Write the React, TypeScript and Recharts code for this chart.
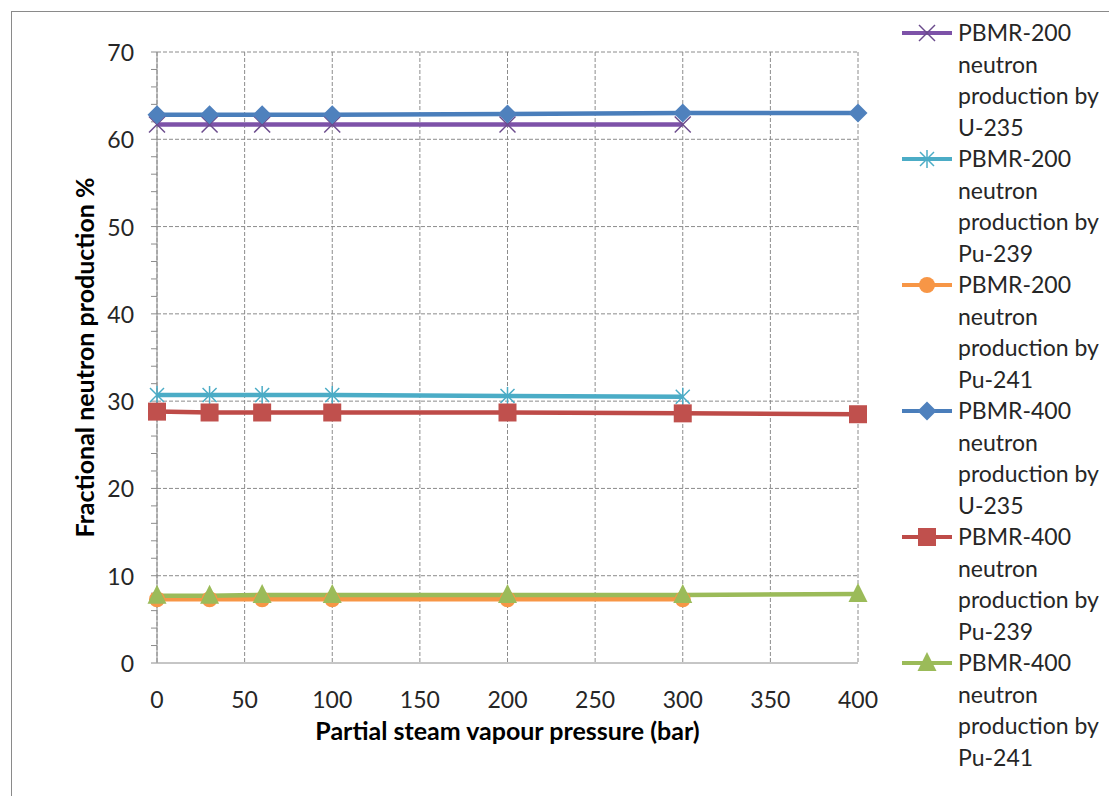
import React from 'react';
import { LineChart, Line, XAxis, YAxis, CartesianGrid, ReferenceLine, Legend, Label } from 'recharts';

const pressures = [0, 30, 60, 100, 200, 300, 400];
const pbmr200U235 = [61.7, 61.7, 61.7, 61.7, 61.7, 61.7, null];
const pbmr200Pu239 = [30.7, 30.7, 30.7, 30.7, 30.6, 30.5, null];
const pbmr200Pu241 = [7.3, 7.3, 7.3, 7.3, 7.3, 7.3, null];
const pbmr400U235 = [62.8, 62.8, 62.8, 62.8, 62.9, 63.0, 63.0];
const pbmr400Pu239 = [28.8, 28.7, 28.7, 28.7, 28.7, 28.6, 28.5];
const pbmr400Pu241 = [7.7, 7.7, 7.8, 7.8, 7.8, 7.8, 7.9];

const xTicks = [0, 50, 100, 150, 200, 250, 300, 350, 400];
const yMajorTicks = [10, 20, 30, 40, 50, 60, 70];
const yMinorTicks = [0, 2, 4, 6, 8, 10, 12, 14, 16, 18, 20, 22, 24, 26, 28, 30, 32, 34, 36, 38, 40, 42, 44, 46, 48, 50, 52, 54, 56, 58, 60, 62, 64, 66, 68, 70];

const seriesKeys = ['s200u235', 's200pu239', 's200pu241', 's400u235', 's400pu239', 's400pu241'];
const seriesNames = [
  'PBMR-200 neutron production by U-235',
  'PBMR-200 neutron production by Pu-239',
  'PBMR-200 neutron production by Pu-241',
  'PBMR-400 neutron production by U-235',
  'PBMR-400 neutron production by Pu-239',
  'PBMR-400 neutron production by Pu-241',
];
const legendLines = [
  ['PBMR-200', 'neutron', 'production by', 'U-235'],
  ['PBMR-200', 'neutron', 'production by', 'Pu-239'],
  ['PBMR-200', 'neutron', 'production by', 'Pu-241'],
  ['PBMR-400', 'neutron', 'production by', 'U-235'],
  ['PBMR-400', 'neutron', 'production by', 'Pu-239'],
  ['PBMR-400', 'neutron', 'production by', 'Pu-241'],
];
const seriesColors = ['#7D52A8', '#4BACC6', '#F79646', '#4A7EBB', '#BE4B48', '#9BBB59'];
const markerColors = ['#6A4A8C', '#4BACC6', '#F79646', '#4F81BD', '#C0504D', '#9BBB59'];
const markerKinds = ['x', 'star', 'circle', 'diamond', 'square', 'triangle'];

const allValues = [pbmr200U235, pbmr200Pu239, pbmr200Pu241, pbmr400U235, pbmr400Pu239, pbmr400Pu241];
const data = pressures.map((p, i) => {
  const row: any = { pressure: p };
  seriesKeys.forEach((k, j) => { row[k] = allValues[j][i]; });
  return row;
});

const FONT = 'Lato, "Open Sans", sans-serif';
const TEXT = '#262626';

function Marker({ kind, cx, cy, color }: any) {
  if (cx == null || cy == null || isNaN(cx) || isNaN(cy)) return <g />;
  switch (kind) {
    case 'x':
      return (
        <g stroke={color} strokeWidth={1.5}>
          <line x1={cx - 8} y1={cy - 8} x2={cx + 8} y2={cy + 8} />
          <line x1={cx - 8} y1={cy + 8} x2={cx + 8} y2={cy - 8} />
        </g>
      );
    case 'star':
      return (
        <g stroke={color} strokeWidth={1.5}>
          <line x1={cx - 7} y1={cy - 7} x2={cx + 7} y2={cy + 7} />
          <line x1={cx - 7} y1={cy + 7} x2={cx + 7} y2={cy - 7} />
          <line x1={cx} y1={cy - 9} x2={cx} y2={cy + 9} />
        </g>
      );
    case 'circle':
      return <circle cx={cx} cy={cy} r={8} fill={color} />;
    case 'diamond':
      return <polygon points={`${cx},${cy - 9.5} ${cx + 9.5},${cy} ${cx},${cy + 9.5} ${cx - 9.5},${cy}`} fill={color} />;
    case 'square':
      return <rect x={cx - 9} y={cy - 9} width={18} height={18} fill={color} />;
    case 'triangle':
      return <polygon points={`${cx},${cy - 11} ${cx + 9.5},${cy + 8} ${cx - 9.5},${cy + 8}`} fill={color} />;
    default:
      return <g />;
  }
}

function YTick(props: any) {
  const { x, y, payload } = props;
  if (payload.value % 10 !== 0) return <g />;
  return (
    <text x={x} y={y} textAnchor="end" dominantBaseline="central" fontSize={23} fill={TEXT} fontFamily={FONT}>
      {payload.value}
    </text>
  );
}

function XTick(props: any) {
  const { x, y, payload } = props;
  return (
    <text x={x} y={y} textAnchor="middle" dominantBaseline="central" fontSize={23} fill={TEXT} fontFamily={FONT}>
      {payload.value}
    </text>
  );
}

function LegendContent() {
  return (
    <div style={{ fontFamily: FONT, fontSize: 23, color: TEXT }}>
      {seriesKeys.map((k, i) => (
        <div key={k} style={{ display: 'flex', alignItems: 'flex-start' }}>
          <svg width={58} height={31.5} style={{ flex: 'none' }}>
            <line x1={2} y1={16} x2={52} y2={16} stroke={seriesColors[i]} strokeWidth={4} />
            <Marker kind={markerKinds[i]} cx={27} cy={16} color={markerColors[i]} />
          </svg>
          <div>
            {legendLines[i].map((t, j) => (
              <div key={j} style={{ height: 31.5, lineHeight: '31.5px', whiteSpace: 'nowrap' }}>{t}</div>
            ))}
          </div>
        </div>
      ))}
    </div>
  );
}

export default function App() {
  return (
    <div style={{ position: 'absolute', left: 0, top: 0, width: 1109, height: 796, background: '#fff', overflow: 'hidden' }}>
      <div style={{ position: 'absolute', left: 11, top: 11, width: 1098, height: 785, borderLeft: '1px solid #8a8a8a', borderTop: '1px solid #8a8a8a', boxSizing: 'border-box' }} />
      <LineChart width={1109} height={796} data={data} margin={{ top: 52, right: 42, bottom: 0, left: 70 }}>
        <CartesianGrid horizontal={false} vertical={true} stroke="#8c8c8c" strokeDasharray="4 2" />
        {yMajorTicks.map((v) => (
          <ReferenceLine key={v} y={v} stroke="#8c8c8c" strokeDasharray="4 2" ifOverflow="visible" />
        ))}
        <XAxis
          dataKey="pressure"
          type="number"
          domain={[0, 400]}
          ticks={xTicks}
          height={133}
          tickLine={false}
          tickSize={6}
          tickMargin={30}
          stroke="#8c8c8c"
          tick={<XTick />}
        >
          <Label value="Partial steam vapour pressure (bar)" position="insideTop" offset={59} style={{ fontFamily: FONT, fontSize: 25, fontWeight: 700, fill: '#000' }} />
        </XAxis>
        <YAxis
          type="number"
          domain={[0, 70]}
          ticks={yMinorTicks}
          interval={0}
          width={87}
          tickSize={6}
          tickMargin={17}
          stroke="#8c8c8c"
          tick={<YTick />}
        >
          <Label value="Fractional neutron production %" angle={-90} position="insideLeft" offset={15} textAnchor="middle" style={{ fontFamily: FONT, fontSize: 25, fontWeight: 700, fill: '#000', textAnchor: 'middle' }} />
        </YAxis>
        <Legend
          layout="vertical"
          align="right"
          verticalAlign="top"
          content={<LegendContent />}
          wrapperStyle={{ position: 'absolute', left: 900, top: 17, width: 209 }}
        />
        {seriesKeys.map((k, i) => (
          <Line
            key={k}
            dataKey={k}
            name={seriesNames[i]}
            stroke={seriesColors[i]}
            strokeWidth={4.5}
            isAnimationActive={false}
            connectNulls={false}
            dot={(p: any) => <Marker key={`${k}-${p.index}`} kind={markerKinds[i]} cx={p.cx} cy={p.cy} color={markerColors[i]} />}
            activeDot={false}
          />
        ))}
      </LineChart>
    </div>
  );
}
